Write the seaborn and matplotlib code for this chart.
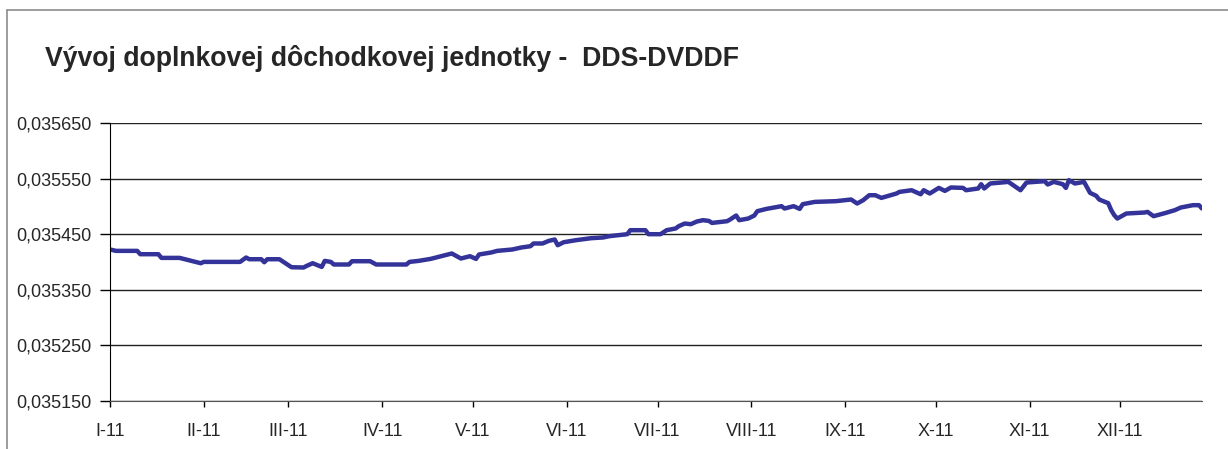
import pandas as pd
import numpy as np
import matplotlib
matplotlib.use('Agg')
import matplotlib.pyplot as plt
from matplotlib.ticker import FuncFormatter
from matplotlib.lines import Line2D
import seaborn as sns

#-------------------------------------------------
title='Vývoj doplnkovej dôchodkovej jednotky -  DDS-DVDDF'
l_month=['I-11', 'II-11', 'III-11', 'IV-11', 'V-11', 'VI-11',
         'VII-11', 'VIII-11', 'IX-11', 'X-11', 'XI-11', 'XII-11']
l_ytick=[0.035150, 0.035250, 0.035350, 0.035450, 0.035550, 0.035650]

l_date=['2011-01-01', '2011-01-03', '2011-01-10', '2011-01-11', '2011-01-17', '2011-01-18',
        '2011-01-24', '2011-01-27', '2011-01-31', '2011-02-01', '2011-02-13', '2011-02-15',
        '2011-02-16', '2011-02-20', '2011-02-21', '2011-02-22', '2011-02-26', '2011-02-28',
        '2011-03-02', '2011-03-06', '2011-03-07', '2011-03-09', '2011-03-12', '2011-03-13',
        '2011-03-15', '2011-03-16', '2011-03-21', '2011-03-22', '2011-03-28', '2011-03-30',
        '2011-04-09', '2011-04-10', '2011-04-13', '2011-04-17', '2011-04-24', '2011-04-27',
        '2011-04-30', '2011-05-02', '2011-05-03', '2011-05-07', '2011-05-09', '2011-05-14',
        '2011-05-17', '2011-05-20', '2011-05-21', '2011-05-24', '2011-05-26', '2011-05-28',
        '2011-05-29', '2011-05-31', '2011-06-04', '2011-06-09', '2011-06-13', '2011-06-15',
        '2011-06-19', '2011-06-21', '2011-06-22', '2011-06-27', '2011-06-28', '2011-07-02',
        '2011-07-04', '2011-07-07', '2011-07-08', '2011-07-10', '2011-07-12', '2011-07-14',
        '2011-07-16', '2011-07-18', '2011-07-19', '2011-07-24', '2011-07-25', '2011-07-27',
        '2011-07-28', '2011-07-31', '2011-08-02', '2011-08-03', '2011-08-06', '2011-08-11',
        '2011-08-12', '2011-08-15', '2011-08-17', '2011-08-18', '2011-08-22', '2011-08-29',
        '2011-09-03', '2011-09-05', '2011-09-07', '2011-09-09', '2011-09-11', '2011-09-13',
        '2011-09-18', '2011-09-19', '2011-09-23', '2011-09-26', '2011-09-27', '2011-09-29',
        '2011-10-02', '2011-10-04', '2011-10-06', '2011-10-10', '2011-10-11', '2011-10-15',
        '2011-10-16', '2011-10-17', '2011-10-19', '2011-10-25', '2011-10-29', '2011-10-31',
        '2011-11-06', '2011-11-07', '2011-11-09', '2011-11-12', '2011-11-13', '2011-11-14',
        '2011-11-16', '2011-11-19', '2011-11-21', '2011-11-23', '2011-11-24', '2011-11-27',
        '2011-11-28', '2011-11-29', '2011-11-30', '2011-12-03', '2011-12-09', '2011-12-10',
        '2011-12-12', '2011-12-16', '2011-12-19', '2011-12-21', '2011-12-25', '2011-12-27',
        '2011-12-28']

l_value=[0.0354225, 0.0354200, 0.0354200, 0.0354140, 0.0354140, 0.0354074,
         0.0354074, 0.0354032, 0.0353978, 0.0354002, 0.0354002, 0.0354081,
         0.0354050, 0.0354050, 0.0353996, 0.0354050, 0.0354050, 0.0353978,
         0.0353906, 0.0353901, 0.0353930, 0.0353978, 0.0353912, 0.0354020,
         0.0354002, 0.0353955, 0.0353955, 0.0354014, 0.0354014, 0.0353955,
         0.0353955, 0.0354002, 0.0354020, 0.0354056, 0.0354153, 0.0354063,
         0.0354104, 0.0354056, 0.0354135, 0.0354171, 0.0354200, 0.0354225,
         0.0354261, 0.0354284, 0.0354333, 0.0354333, 0.0354379, 0.0354405,
         0.0354302, 0.0354356, 0.0354392, 0.0354428, 0.0354441, 0.0354464,
         0.0354487, 0.0354500, 0.0354572, 0.0354572, 0.0354500, 0.0354500,
         0.0354572, 0.0354603, 0.0354644, 0.0354692, 0.0354680, 0.0354728,
         0.0354752, 0.0354739, 0.0354703, 0.0354734, 0.0354764, 0.0354836,
         0.0354752, 0.0354782, 0.0354836, 0.0354914, 0.0354955, 0.0355004,
         0.0354962, 0.0355004, 0.0354955, 0.0355040, 0.0355081, 0.0355094,
         0.0355124, 0.0355052, 0.0355112, 0.0355201, 0.0355201, 0.0355153,
         0.0355232, 0.0355261, 0.0355291, 0.0355219, 0.0355291, 0.0355232,
         0.0355333, 0.0355279, 0.0355340, 0.0355333, 0.0355291, 0.0355322,
         0.0355399, 0.0355322, 0.0355412, 0.0355441, 0.0355291, 0.0355430,
         0.0355453, 0.0355394, 0.0355441, 0.0355399, 0.0355333, 0.0355471,
         0.0355412, 0.0355441, 0.0355243, 0.0355192, 0.0355124, 0.0355058,
         0.0354932, 0.0354842, 0.0354782, 0.0354872, 0.0354890, 0.0354901,
         0.0354824, 0.0354883, 0.0354932, 0.0354980, 0.0355022, 0.0355022,
         0.0354962]

#-------------------------------------------------
df=pd.DataFrame({'date': pd.to_datetime(l_date), 'value': l_value})

sns.set_style('white')
plt.rcParams['font.family']=['Liberation Sans', 'DejaVu Sans']

fig=plt.figure(figsize=(12.28, 4.49), dpi=100)
ax=fig.add_axes([110/1228, 48/449, 1092/1228, 278/449])

sns.lineplot(data=df, x='date', y='value', ax=ax, color='#333399', linewidth=3.2)

#adjust
ax.set_xlim(df['date'].iloc[0], df['date'].iloc[-1])
ax.set_ylim(l_ytick[0], l_ytick[-1])
ax.set_yticks(l_ytick)
ax.yaxis.set_major_formatter(FuncFormatter(lambda v, p: f'{v:.6f}'.replace('.', ',')))
ax.grid(axis='y', color='#222222', linewidth=1)
ax.set_axisbelow(True)

ticks=pd.date_range('2011-01-01', periods=12, freq='MS')
ax.set_xticks(ticks)
ax.set_xticklabels(l_month)
ax.set_xlabel('')
ax.set_ylabel('')

for s in ['top', 'right']:
    ax.spines[s].set_visible(False)
ax.spines['left'].set_color('black')
ax.spines['bottom'].set_color('#555555')
ax.tick_params(axis='y', left=True, length=7, width=1, color='black', pad=6, labelsize=13)
ax.tick_params(axis='x', bottom=True, length=4, width=1, color='black', pad=12, labelsize=13)

fig.text(45/1228, 1-58/449, title, ha='left', va='center', fontsize=19.2, weight='bold')

#chart border
fig.add_artist(Line2D([7/1228, 7/1228], [0, 1-10/449], color='#8c8c8c', linewidth=1.2))
fig.add_artist(Line2D([7/1228, 1], [1-10/449, 1-10/449], color='#8c8c8c', linewidth=1.2))

#save
fig.savefig('out.png', dpi=100)
plt.close()
